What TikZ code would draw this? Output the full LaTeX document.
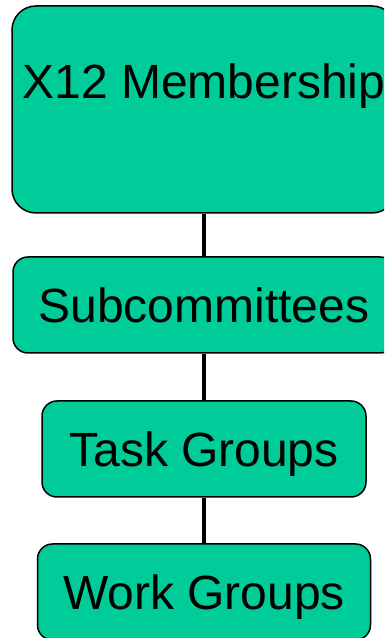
\documentclass[tikz,border=0pt]{standalone}
\usepackage{fontspec}
\setmainfont{Liberation Sans}
\usepackage{tikz}
\usetikzlibrary{positioning}
\definecolor{x12-green}{HTML}{00CC99}

\begin{document}
\begin{tikzpicture}[x=1pt, y=1pt, font=\fontsize{48}{58}\selectfont,
  unit/.style={draw=black, line width=1.5pt, fill=x12-green, rounded corners=15pt,
    inner sep=0pt, text height=66pt, text depth=30pt},
  link/.style={line width=4.5pt}]
\useasboundingbox (0, 0) rectangle (384, 638);
\clip (0, 0) rectangle (384, 638);

\node[unit, anchor=base, minimum width=384pt, rounded corners=24pt,
  text height=93pt, text depth=114pt] (member) at (204, 539) {X12 Membership};

\node[unit, anchor=base, minimum width=382pt] (sub) at (204, 315) {Subcommittees};

\node[unit, anchor=base, minimum width=324pt] (task) at (204, 171) {Task Groups};

\node[unit, anchor=base, minimum width=333pt] (work) at (204, 28) {Work Groups};

\draw[link] (member.south) -- (sub.north);
\draw[link] (sub.south) -- (task.north);
\draw[link] (task.south) -- (work.north);
\end{tikzpicture}
\end{document}
